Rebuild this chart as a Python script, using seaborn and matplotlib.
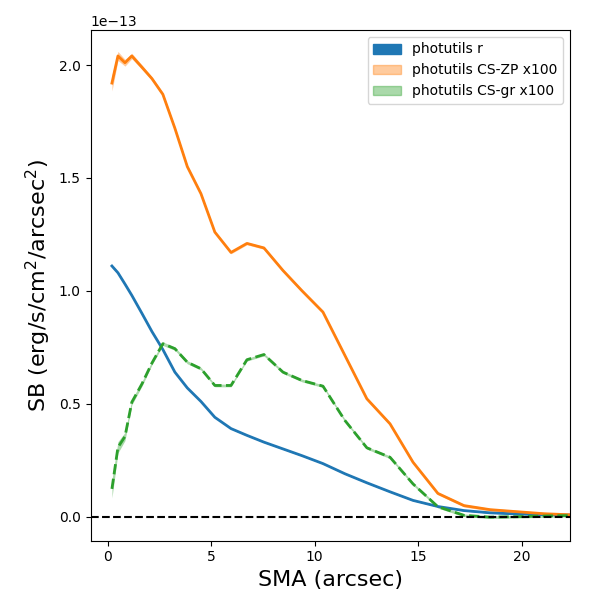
import numpy as np
import pandas as pd
import matplotlib
matplotlib.use("Agg")
import matplotlib.pyplot as plt
import seaborn as sns
from matplotlib.patches import Patch

# SMA grid (arcsec)
sma = [0.21, 0.50, 0.84, 1.17, 1.66, 2.14, 2.67, 3.25, 3.85, 4.51, 5.18, 5.96,
       6.73, 7.55, 8.47, 9.39, 10.4, 11.46, 12.52, 13.64, 14.75, 15.95, 17.21,
       18.47, 19.77, 21.07, 22.42]

# surface brightness in units of 1e-13 erg/s/cm2/arcsec2
sb_r = [1.11, 1.08, 1.03, 0.98, 0.90, 0.82, 0.74, 0.64, 0.57, 0.51, 0.44, 0.39,
        0.36, 0.33, 0.30, 0.27, 0.235, 0.19, 0.15, 0.11, 0.072, 0.045, 0.027,
        0.017, 0.012, 0.009, 0.007]
sb_zp = [1.92, 2.04, 2.01, 2.04, 1.99, 1.94, 1.87, 1.72, 1.55, 1.43, 1.26, 1.17,
         1.21, 1.19, 1.09, 1.00, 0.906, 0.714, 0.522, 0.411, 0.241, 0.103, 0.049,
         0.031, 0.022, 0.013, 0.008]
sb_gr = [0.123, 0.307, 0.355, 0.507, 0.588, 0.68, 0.766, 0.744, 0.684, 0.655,
         0.581, 0.581, 0.695, 0.718, 0.64, 0.603, 0.578, 0.426, 0.305, 0.263,
         0.145, 0.044, 0.006, -0.002, 0.0, 0.003, 0.005]

# uncertainties (same units)
err_r = [0.005, 0.004, 0.004, 0.003, 0.003, 0.003, 0.003, 0.002, 0.002, 0.002,
         0.002, 0.002, 0.002, 0.002, 0.002, 0.002, 0.002, 0.002, 0.002, 0.002,
         0.002, 0.002, 0.002, 0.002, 0.002, 0.002, 0.002]
err_zp = [0.035, 0.02, 0.015, 0.012, 0.01, 0.008, 0.008, 0.007, 0.007, 0.006,
          0.006, 0.006, 0.006, 0.006, 0.006, 0.006, 0.006, 0.006, 0.006, 0.006,
          0.006, 0.006, 0.006, 0.006, 0.006, 0.006, 0.006]
err_gr = [0.04, 0.025, 0.018, 0.012, 0.01, 0.008, 0.008, 0.007, 0.007, 0.006,
          0.006, 0.006, 0.006, 0.006, 0.006, 0.006, 0.006, 0.006, 0.006, 0.006,
          0.006, 0.006, 0.006, 0.006, 0.006, 0.006, 0.006]

scale = 1e-13
df = pd.DataFrame({
    "sma": sma,
    "r": np.array(sb_r) * scale,
    "zp": np.array(sb_zp) * scale,
    "gr": np.array(sb_gr) * scale,
})

fig, ax = plt.subplots(figsize=(6, 6), dpi=100)

c_r, c_zp, c_gr = "#1f77b4", "#ff7f0e", "#2ca02c"

sns.lineplot(data=df, x="sma", y="r", ax=ax, color=c_r, lw=2, sort=False)
sns.lineplot(data=df, x="sma", y="zp", ax=ax, color=c_zp, lw=2, sort=False)
sns.lineplot(data=df, x="sma", y="gr", ax=ax, color=c_gr, lw=2, ls="--", sort=False)

ax.fill_between(df["sma"], df["r"] - np.array(err_r) * scale,
                df["r"] + np.array(err_r) * scale, color=c_r, alpha=1.0, lw=0)
ax.fill_between(df["sma"], df["zp"] - np.array(err_zp) * scale,
                df["zp"] + np.array(err_zp) * scale, color=c_zp, alpha=0.4, lw=0)
ax.fill_between(df["sma"], df["gr"] - np.array(err_gr) * scale,
                df["gr"] + np.array(err_gr) * scale, color=c_gr, alpha=0.4, lw=0)

ax.axhline(0, color="k", ls="--", lw=1.5)

handles = [Patch(facecolor=c_r, edgecolor=c_r, label="photutils r"),
           Patch(facecolor=c_zp, edgecolor=c_zp, alpha=0.4, label="photutils CS-ZP x100"),
           Patch(facecolor=c_gr, edgecolor=c_gr, alpha=0.4, label="photutils CS-gr x100")]
ax.legend(handles=handles, loc="upper right")

ax.set_xlim(-0.82, 22.33)
ax.set_ylim(-0.106e-13, 2.155e-13)
ax.set_xlabel("SMA (arcsec)", fontsize=16)
ax.set_ylabel("SB (erg/s/cm$^2$/arcsec$^2$)", fontsize=16)

fig.subplots_adjust(left=0.151, right=0.95, top=0.95, bottom=0.099)
fig.savefig("out.png", dpi=100)
